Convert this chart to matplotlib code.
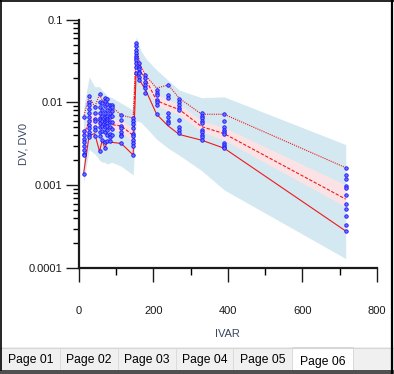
import matplotlib
matplotlib.use("Agg")
import matplotlib.pyplot as plt
from matplotlib.patches import Rectangle
from matplotlib.lines import Line2D

# ---------------- data ----------------
bin_times = [13, 28, 43, 56, 63, 70, 77, 88, 114, 146, 154, 166, 180, 209, 240, 270, 330, 390, 716]
p_low = [0.00137, 0.0040, 0.0042, 0.00255, 0.0035, 0.0028, 0.0034, 0.0033, 0.0032, 0.00232,
         0.0227, 0.0178, 0.0140, 0.0072, 0.0052, 0.0041, 0.0035, 0.0028, 0.00028]
p_med = [0.0040, 0.0060, 0.0063, 0.0060, 0.0055, 0.0062, 0.0058, 0.0054, 0.0052, 0.0040,
         0.036, 0.0235, 0.019, 0.0105, 0.0092, 0.0082, 0.0051, 0.0042, 0.00068]
p_high = [0.0066, 0.0120, 0.0088, 0.0126, 0.0105, 0.0112, 0.0100, 0.0090, 0.0070, 0.0065,
          0.047, 0.028, 0.021, 0.0149, 0.0163, 0.0112, 0.0072, 0.0072, 0.00163]
pi_upper = [0.0085, 0.0205, 0.0155, 0.0155, 0.014, 0.013, 0.012, 0.0115, 0.0098, 0.0081,
            0.063, 0.043, 0.034, 0.0247, 0.0185, 0.0141, 0.0114, 0.0117, 0.0031]
pi_lower = [0.00106, 0.0027, 0.0024, 0.0020, 0.0019, 0.0019, 0.0018, 0.0019, 0.0017, 0.00133,
            0.0060, 0.0058, 0.0050, 0.0036, 0.0028, 0.0023, 0.0015, 0.00088, 0.00013]
ci_med_lo = [0.0033, 0.0050, 0.0053, 0.0050, 0.0047, 0.0052, 0.0049, 0.0046, 0.0044, 0.0034,
             0.030, 0.0205, 0.0165, 0.0092, 0.0080, 0.0071, 0.0044, 0.0035, 0.00055]
ci_med_hi = [0.0048, 0.0072, 0.0075, 0.0072, 0.0066, 0.0074, 0.0069, 0.0064, 0.0062, 0.0048,
             0.042, 0.028, 0.0225, 0.0125, 0.0108, 0.0096, 0.0060, 0.0050, 0.00101]

obs_times = [13, 28, 43, 56, 63, 70, 77, 83, 88, 114, 146, 154, 163, 178, 209, 240, 270, 330, 390, 716]
obs_values = [
    [0.0066, 0.0045, 0.0040, 0.0036, 0.0033, 0.0030, 0.0027, 0.0024, 0.0023, 0.00137],
    [0.0120, 0.0102, 0.0093, 0.0084, 0.0074, 0.0066, 0.0059, 0.0054, 0.0049, 0.0044, 0.0040, 0.0038],
    [0.0088, 0.0074, 0.0063, 0.0059, 0.0051, 0.0046, 0.0039],
    [0.0126, 0.0102, 0.0089, 0.0074, 0.0065, 0.0062, 0.0056, 0.0051, 0.0044, 0.0039, 0.0026],
    [0.0098, 0.0081, 0.0068, 0.0060, 0.0052, 0.0045, 0.0035],
    [0.0112, 0.0105, 0.0090, 0.0074, 0.0066, 0.0062, 0.0058, 0.0054, 0.0050, 0.0044, 0.0033, 0.0028],
    [0.0110, 0.0095, 0.0080, 0.0068, 0.0063, 0.0059, 0.0056, 0.0052, 0.0046, 0.0040, 0.0034],
    [0.0092, 0.0085, 0.0075, 0.0066, 0.0058, 0.0050, 0.0042, 0.0038, 0.0034],
    [0.0093, 0.0088, 0.0078, 0.0068, 0.0058, 0.0048, 0.0040],
    [0.0070, 0.0062, 0.0052, 0.0049, 0.0044, 0.0041, 0.0039, 0.0032],
    [0.0065, 0.0059, 0.0055, 0.0049, 0.0042, 0.0039, 0.0035, 0.0032, 0.0030, 0.0023],
    [0.0527, 0.0481, 0.0430, 0.0393, 0.0365, 0.0342, 0.0326, 0.0297, 0.0270, 0.0229],
    [0.0297, 0.0270, 0.0252, 0.0236, 0.0225, 0.0205, 0.0187],
    [0.0215, 0.0196, 0.0178, 0.0163, 0.0150, 0.0129],
    [0.0142, 0.0131, 0.0123, 0.0107, 0.0102, 0.0093, 0.0073],
    [0.0163, 0.0123, 0.0113, 0.0074, 0.0066, 0.0060, 0.0056],
    [0.0109, 0.0102, 0.0093, 0.0085, 0.0081, 0.0062, 0.0051, 0.0047, 0.0043],
    [0.0074, 0.0069, 0.0065, 0.0060, 0.0056, 0.0047, 0.0044, 0.0041, 0.0038, 0.0035],
    [0.0073, 0.0059, 0.0051, 0.0047, 0.0044, 0.0042, 0.0032, 0.0031, 0.0029, 0.0028],
    [0.0016, 0.00133, 0.00118, 0.00098, 0.00092, 0.00076, 0.00059, 0.00052, 0.00043, 0.00033, 0.00028],
]

x_ticks = [0, 200, 400, 600, 800]
y_ticks = [0.0001, 0.001, 0.01, 0.1]
y_tick_labels = ["0.0001", "0.001", "0.01", "0.1"]
tab_labels = ["Page 01", "Page 02", "Page 03", "Page 04", "Page 05", "Page 06"]
x_label = "IVAR"
y_label = "DV, DV0"

# ---------------- figure ----------------
plt.rcParams['font.family'] = ['Liberation Sans', 'DejaVu Sans']
W, H = 394, 374
fig = plt.figure(figsize=(W / 100, H / 100), dpi=100)
fig.patch.set_facecolor('white')

ax_l, ax_r, ax_t, ax_b = 78.7, 377.0, 19.7, 268.0
ax = fig.add_axes([ax_l / W, 1 - ax_b / H, (ax_r - ax_l) / W, (ax_b - ax_t) / H])
ax.set_facecolor('none')

ax.fill_between(bin_times, pi_lower, pi_upper, color='#d3e8f0', lw=0, zorder=1)
ax.fill_between(bin_times, ci_med_lo, ci_med_hi, color='#fbe3e5', lw=0, zorder=2)

red = '#f01818'
ax.plot(bin_times, p_low, color=red, lw=0.8, ls='-', zorder=3)
ax.plot(bin_times, p_med, color=red, lw=0.8, ls=(0, (3, 1.5)), zorder=3)
ax.plot(bin_times, p_high, color=red, lw=0.8, ls=(0, (1, 1)), zorder=3)

xs, ys = [], []
for t, vals in zip(obs_times, obs_values):
    for v in vals:
        xs.append(t)
        ys.append(v)
ax.plot(xs, ys, ls='none', marker='o', ms=2.5, mfc='#7070ff', mec='#1414ff', mew=0.6, zorder=4)

ax.set_yscale('log')
ax.set_xlim(0, 800)
ax.set_ylim(0.0001, 0.1)
ax.set_xticks(x_ticks)
ax.set_xticklabels([str(v) for v in x_ticks])
ax.set_xticks([100, 300, 500, 700], minor=True)
ax.set_yticks(y_ticks)
ax.set_yticklabels(y_tick_labels)

for s in ['top', 'right']:
    ax.spines[s].set_visible(False)
for s in ['left', 'bottom']:
    ax.spines[s].set_linewidth(1.6)
    ax.spines[s].set_color('#1a1a1a')

ax.tick_params(axis='x', which='major', length=10, width=1.0, direction='out', pad=17,
               labelsize=8, colors='#1a1a1a')
ax.tick_params(axis='x', which='minor', length=5, width=1.0, direction='out')
ax.tick_params(axis='y', which='major', length=9.5, width=1.0, direction='out', pad=2,
               labelsize=8, colors='#1a1a1a')
ax.tick_params(axis='y', which='minor', length=4.5, width=1.0, direction='out')

ax.set_xlabel(x_label, fontsize=8, color='#3c4660')
ax.set_ylabel(y_label, fontsize=8, color='#3c4660')
ax.xaxis.set_label_coords(0.5, (ax_b - 334) / (ax_b - ax_t))
ax.xaxis.label.set_va('center')
ax.yaxis.set_label_coords((24 - ax_l) / (ax_r - ax_l), 0.5)
ax.yaxis.label.set_va('center')

# ---------------- window frame and tabs ----------------
ov = fig.add_axes([0, 0, 1, 1], zorder=-5)
ov.set_xlim(0, W)
ov.set_ylim(H, 0)
ov.axis('off')

ov.add_patch(Rectangle((0, 347), W, 23, facecolor='#f0f0f0', edgecolor='none'))
ov.add_line(Line2D([0, W], [347.5, 347.5], color='#d6d6d6', lw=0.8))
tab_edges = [2, 60, 118, 176, 233, 292, 353]
for i, lab in enumerate(tab_labels):
    x0, x1 = tab_edges[i], tab_edges[i + 1]
    sel = (i == len(tab_labels) - 1)
    if sel:
        ov.add_patch(Rectangle((x0, 347), x1 - x0, 23, facecolor='white', edgecolor='#d9d9d9', lw=0.7))
    else:
        ov.add_line(Line2D([x1, x1], [348, 369], color='#dcdcdc', lw=0.7))
    ov.text((x0 + x1) / 2, 361.5 if sel else 360.2, lab, ha='center', va='center',
            fontsize=8.7, color='black')

ov.add_patch(Rectangle((0, 370), W, 4, facecolor='#505050', edgecolor='none'))
ov.add_line(Line2D([0, W], [0.6, 0.6], color='black', lw=1.2))
ov.add_line(Line2D([0.6, 0.6], [0, 370], color='black', lw=1.2))
ov.add_line(Line2D([392.2, 392.2], [0, H], color='black', lw=1.6))

fig.savefig('out.png', dpi=100, facecolor='white')
